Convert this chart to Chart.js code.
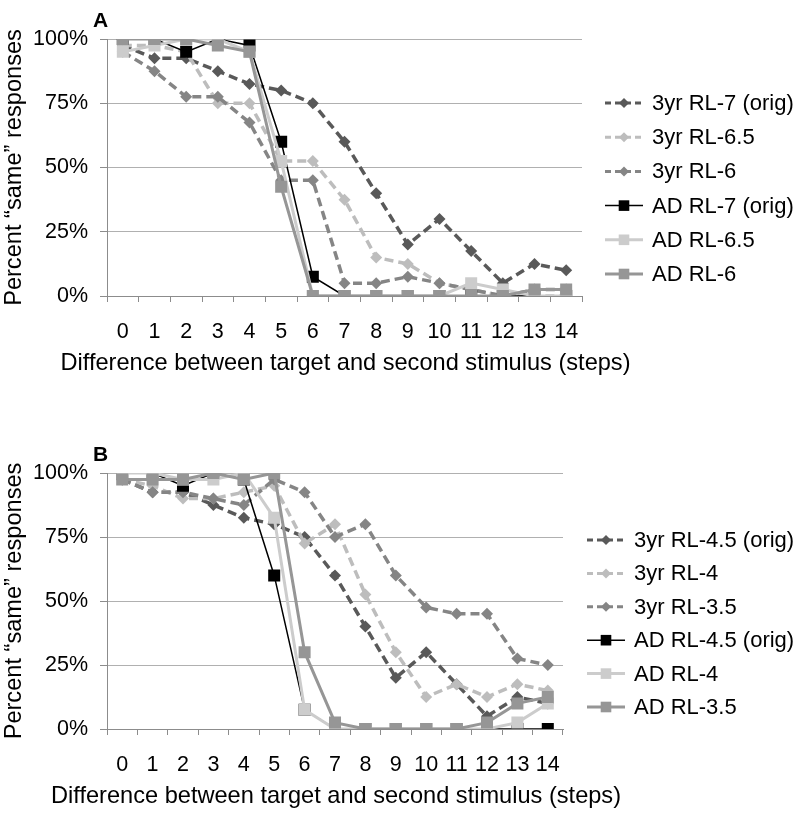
<!DOCTYPE html>
<html>
<head>
<meta charset="utf-8">
<script src="https://cdn.jsdelivr.net/npm/chart.js@4.4.1/dist/chart.umd.min.js"></script>
<style>
  html, body { margin: 0; padding: 0; background: #fff; }
  body { width: 800px; height: 813px; position: relative; overflow: hidden; font-family: "Liberation Sans", Arial, sans-serif; }
  .panel { position: absolute; left: 0; width: 800px; }
  .tag { position: absolute; font-weight: bold; font-size: 21px; line-height: 1; }
</style>
</head>
<body>
<div class="panel" style="top:0;height:400px"><canvas id="chartA" width="800" height="400"></canvas></div>
<div class="panel" style="top:400px;height:413px"><canvas id="chartB" width="800" height="413"></canvas></div>
<div class="tag" style="left:93px;top:9px">A</div>
<div class="tag" style="left:93px;top:443px">B</div>
<script>
// x categories (steps)
const steps = ['0','1','2','3','4','5','6','7','8','9','10','11','12','13','14'];
const yTicks = [0, 25, 50, 75, 100];
const xTitle = 'Difference between target and second stimulus (steps)';
const yTitle = 'Percent \u201csame\u201d responses';

// panel A
const labelsA = ['3yr RL-7 (orig)', '3yr RL-6.5', '3yr RL-6', 'AD RL-7 (orig)', 'AD RL-6.5', 'AD RL-6'];
const yrRL7   = [97.5, 92.5, 92.5, 87.5, 82.5, 80, 75, 60, 40, 20, 30, 17.5, 5, 12.5, 10];
const yrRL65  = [97.5, 97.5, 95, 75, 75, 52.5, 52.5, 37.5, 15, 12.5, 5, 2.5, 0, 0, 0];
const yrRL6   = [95, 87.5, 77.5, 77.5, 67.5, 45, 45, 5, 5, 7.5, 5, 2.5, 0, 2.5, 2.5];
const adRL7   = [100, 100, 95, 100, 97.5, 60, 7.5, 0, 0, 0, 0, 0, 0, 0, 0];
const adRL65  = [95, 97.5, 100, 100, 95, 52.5, 0, 0, 0, 0, 0, 5, 2.5, 0, 0];
const adRL6   = [100, 100, 100, 97.5, 95, 42.5, 0, 0, 0, 0, 0, 0, 0, 2.5, 2.5];

// panel B
const labelsB = ['3yr RL-4.5 (orig)', '3yr RL-4', '3yr RL-3.5', 'AD RL-4.5 (orig)', 'AD RL-4', 'AD RL-3.5'];
const yrRL45  = [97.5, 92.5, 92.5, 87.5, 82.5, 80, 75, 60, 40, 20, 30, 17.5, 5, 12.5, 10];
const yrRL4   = [97.5, 95, 90, 90, 92.5, 95, 72.5, 80, 52.5, 30, 12.5, 17.5, 12.5, 17.5, 15];
const yrRL35  = [97.5, 92.5, 92.5, 90, 87.5, 97.5, 92.5, 75, 80, 60, 47.5, 45, 45, 27.5, 25];
const adRL45  = [100, 100, 95, 100, 97.5, 60, 7.5, 0, 0, 0, 0, 0, 0, 0, 0];
const adRL4   = [100, 100, 97.5, 97.5, 100, 82.5, 7.5, 0, 0, 0, 0, 0, 0, 2.5, 10];
const adRL35  = [97.5, 97.5, 97.5, 100, 97.5, 100, 30, 2.5, 0, 0, 0, 0, 2.5, 10, 12.5];

const FONT = '"Liberation Sans", Arial, sans-serif';

// line styles, same order for both panels
const styles = [
  { color: '#595959', width: 3.5, dash: [9, 5], point: 'rectRot', r: 6,   lr: 5 },
  { color: '#bdbdbd', width: 3.5, dash: [9, 5], point: 'rectRot', r: 6,   lr: 5 },
  { color: '#858585', width: 3.5, dash: [9, 5], point: 'rectRot', r: 6,   lr: 5 },
  { color: '#000000', width: 1.5, dash: [],     point: 'rect',    r: 8.5, lr: 7.5 },
  { color: '#cccccc', width: 3,   dash: [],     point: 'rect',    r: 8.5, lr: 7.5 },
  { color: '#969696', width: 3,   dash: [],     point: 'rect',    r: 8.5, lr: 7.5 }
];

function makeSets(names, series) {
  return series.map((vals, i) => ({
    label: names[i],
    data: vals,
    order: series.length - i,   // later series on top, like the original
    borderColor: styles[i].color,
    backgroundColor: styles[i].color,
    borderWidth: styles[i].width,
    borderDash: styles[i].dash,
    pointStyle: styles[i].point,
    pointRadius: styles[i].r,
    pointBorderWidth: 0,
    pointBackgroundColor: styles[i].color,
    tension: 0,
    fill: false,
    legendR: styles[i].lr
  }));
}

// legend at the right (line + marker) and the x title, which is wider than the plot
const sideLegend = {
  id: 'sideLegend',
  afterDraw(chart, args, opts) {
    const ctx = chart.ctx;
    ctx.save();
    chart.data.datasets.forEach((ds, i) => {
      const y = opts.top + i * opts.gap;
      ctx.strokeStyle = ds.borderColor;
      ctx.lineWidth = Math.min(ds.borderWidth, 3);
      ctx.setLineDash(ds.borderDash.length ? [6, 4] : []);
      ctx.beginPath();
      ctx.moveTo(opts.x, y);
      ctx.lineTo(opts.x + opts.len, y);
      ctx.stroke();
      ctx.setLineDash([]);
      ctx.fillStyle = ds.backgroundColor;
      Chart.helpers.drawPoint(ctx, { pointStyle: ds.pointStyle, radius: ds.legendR, rotation: 0, borderWidth: 0 }, opts.x + opts.len / 2, y);
      ctx.fillStyle = '#000';
      ctx.font = '22px ' + FONT;
      ctx.textBaseline = 'middle';
      ctx.textAlign = 'left';
      ctx.fillText(ds.label, opts.x + opts.len + 9, y + 1);
    });
    const xs = chart.scales.x;
    ctx.font = '23.6px ' + FONT;
    ctx.textAlign = 'center';
    ctx.fillText(xTitle, (xs.left + xs.right) / 2 + 1, chart.chartArea.bottom + 67);
    ctx.restore();
  }
};

function makeChart(id, names, series, pad, legendOpts) {
  return new Chart(document.getElementById(id), {
    type: 'line',
    data: { labels: steps, datasets: makeSets(names, series) },
    options: {
      responsive: false,
      animation: false,
      layout: { padding: pad },
      plugins: {
        legend: { display: false },
        tooltip: { enabled: false },
        sideLegend: legendOpts
      },
      scales: {
        x: {
          offset: true,
          ticks: { font: { size: 21.5, family: FONT }, color: '#000', padding: 17, maxRotation: 0, autoSkip: false },
          grid: { offset: true, drawOnChartArea: false, tickLength: 6, color: '#8c8c8c' },
          border: { color: '#8c8c8c' },
          afterFit: s => { s.height = 84; }
        },
        y: {
          min: 0, max: 100,
          afterBuildTicks: s => { s.ticks = yTicks.map(v => ({ value: v })); },
          ticks: { callback: v => v + '%', font: { size: 21.5, family: FONT }, color: '#000', padding: 12 },
          grid: { color: '#b0b0b0', tickLength: 7, tickColor: '#8c8c8c' },
          border: { color: '#8c8c8c' },
          title: { display: true, text: yTitle, font: { size: 23.6, family: FONT }, color: '#000', padding: { top: 0, bottom: 0 } },
          afterFit: s => { s.width = 107; }
        }
      }
    },
    plugins: [sideLegend]
  });
}

makeChart('chartA', labelsA, [yrRL7, yrRL65, yrRL6, adRL7, adRL65, adRL6],
  { top: 39, right: 218, bottom: 20, left: 0 },
  { x: 605, len: 38, top: 103, gap: 34.2 });

makeChart('chartB', labelsB, [yrRL45, yrRL4, yrRL35, adRL45, adRL4, adRL35],
  { top: 73, right: 237, bottom: 0, left: 0 },
  { x: 587, len: 38, top: 140, gap: 33.4 });
</script>
</body>
</html>
